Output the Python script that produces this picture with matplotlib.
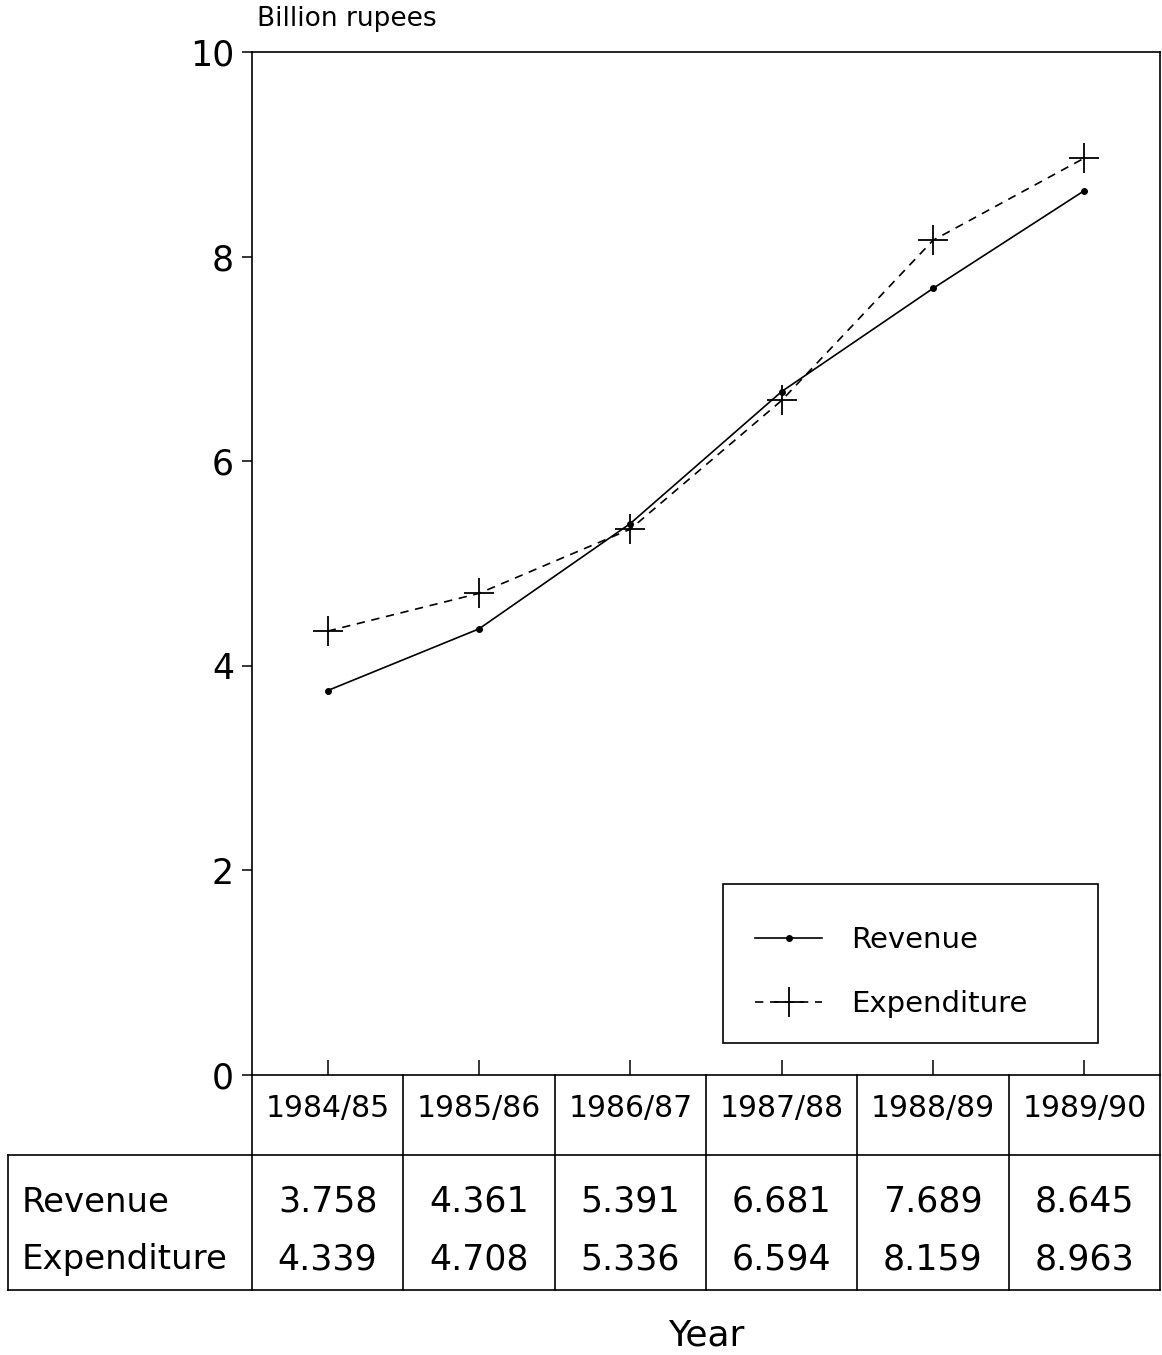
import numpy as np
import matplotlib
matplotlib.use("Agg")
import matplotlib.pyplot as plt
from matplotlib.patches import Rectangle

years = ["1984/85", "1985/86", "1986/87", "1987/88", "1988/89", "1989/90"]
revenue = [3.758, 4.361, 5.391, 6.681, 7.689, 8.645]
expenditure = [4.339, 4.708, 5.336, 6.594, 8.159, 8.963]
series_names = ["Revenue", "Expenditure"]

plt.rcParams['font.family'] = ['DejaVu Sans']

W, H = 1162, 1355
fig = plt.figure(figsize=(W / 100, H / 100), dpi=100)

# main plot area (pixel boxes converted to figure fractions)
ax = fig.add_axes([252 / W, 1 - 1075 / H, 908 / W, (1075 - 52) / H])
x = np.arange(len(years))

ax.plot(x, revenue, color='black', lw=1.2, marker='o', markersize=4,
        label=series_names[0])
ax.plot(x, expenditure, color='black', lw=1.2, ls=(0, (5, 4)), marker='+',
        markersize=21, markeredgewidth=1.3, label=series_names[1])

ax.set_xlim(-0.5, len(years) - 0.5)
ax.set_ylim(0, 10)
ax.set_yticks([0, 2, 4, 6, 8, 10])
ax.set_xticks(x)
ax.set_xticklabels([])
ax.tick_params(axis='x', direction='in', length=11, width=1.1, bottom=True)
ax.tick_params(axis='y', direction='out', length=7, width=1.1, labelsize=25, pad=6)
for s in ax.spines.values():
    s.set_linewidth(1.2)

ax.text(0.006, 1.02, "Billion rupees", transform=ax.transAxes, fontsize=19,
        ha='left', va='bottom')

# legend frame drawn separately so the entries can sit where they do in the original
ax.add_patch(Rectangle((0.519, 0.031), 0.413, 0.156, transform=ax.transAxes,
                       fill=True, facecolor='white', edgecolor='black',
                       lw=1.2, zorder=4))
leg = ax.legend(loc='lower left', bbox_to_anchor=(0.519, 0.024),
                frameon=False, fontsize=21, handlelength=2.3, handletextpad=1.0,
                labelspacing=1.25, borderpad=1.1, borderaxespad=0)
leg.set_zorder(5)

# table area below the plot
tax = fig.add_axes([252 / W, 1 - 1290 / H, 908 / W, (1290 - 1075) / H], sharex=ax)
tax.set_ylim(0, 215)
tax.axis('off')
left = -0.5 - (252 - 8) / (908 / len(years))
kw = dict(color='black', lw=1.2, clip_on=False)
for b in np.arange(len(years) + 1) - 0.5:
    tax.plot([b, b], [0, 215], **kw)
tax.plot([left, len(years) - 0.5], [135, 135], **kw)
tax.plot([left, len(years) - 0.5], [0, 0], **kw)
tax.plot([left, left], [0, 135], **kw)

for i, yr in enumerate(years):
    tax.text(i, 181, yr, ha='center', va='center', fontsize=21.5)
    tax.text(i, 88, f"{revenue[i]:.3f}", ha='center', va='center', fontsize=25)
    tax.text(i, 31, f"{expenditure[i]:.3f}", ha='center', va='center', fontsize=25)

lx = left + 14 / (908 / len(years))
tax.text(lx, 88, series_names[0], ha='left', va='center', fontsize=24.5, clip_on=False)
tax.text(lx, 31, series_names[1], ha='left', va='center', fontsize=24.5, clip_on=False)

fig.text(706 / W, 1 - 1335 / H, "Year", ha='center', va='center', fontsize=26)

fig.savefig("out.png", dpi=100)
